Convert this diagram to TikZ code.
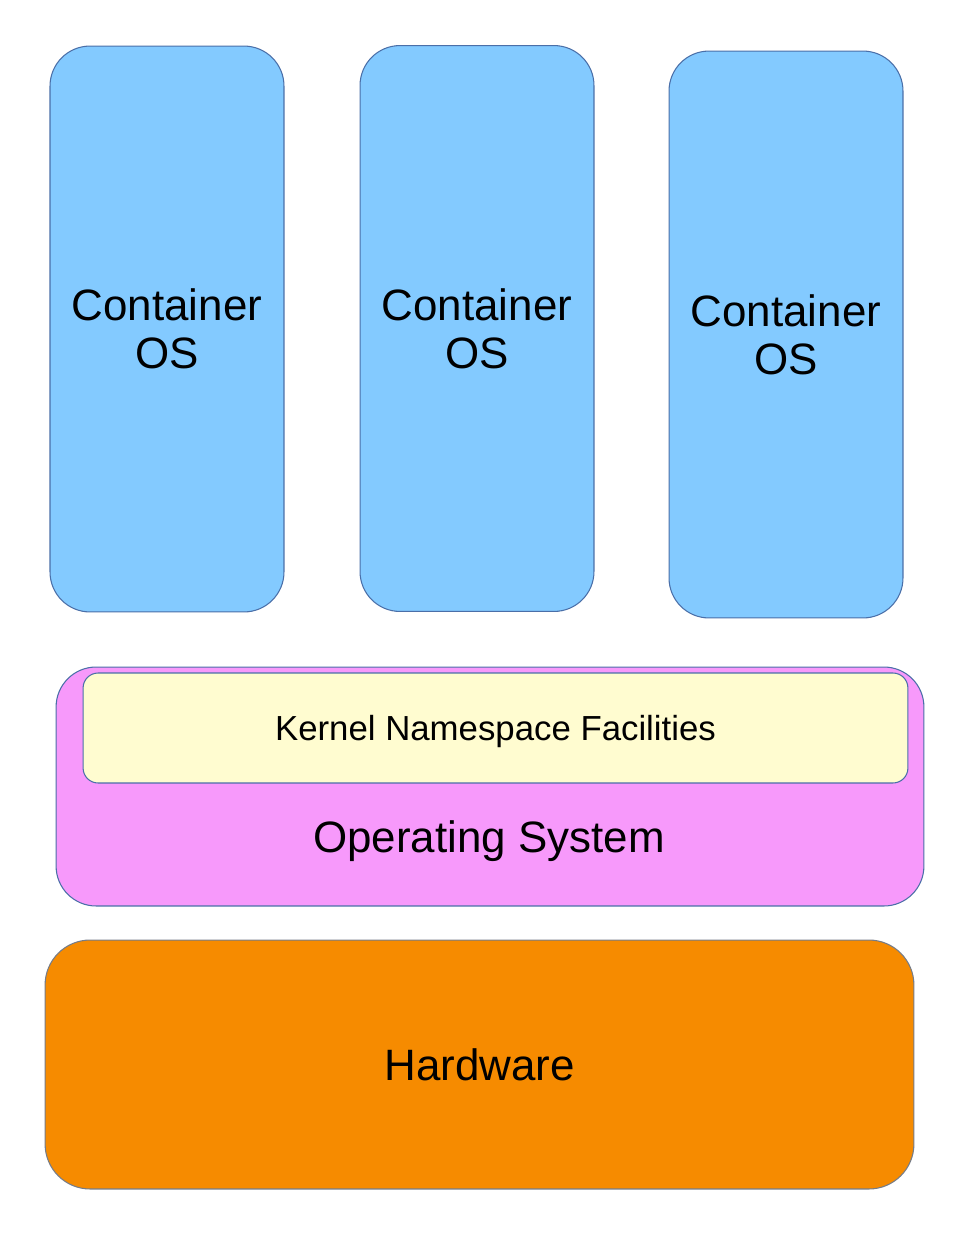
\documentclass[tikz,border=0pt]{standalone}
\usepackage{fontspec}
\setmainfont{Liberation Sans}
\usepackage{tikz}
\usetikzlibrary{calc}
\definecolor{contblue}{HTML}{83CAFF}
\definecolor{ospink}{HTML}{F799FB}
\definecolor{kernyellow}{HTML}{FFFCD0}
\definecolor{hworange}{HTML}{F68B00}
\definecolor{edgeblue}{HTML}{4A6FA8}
\tikzset{
    box/.style={draw=edgeblue,line width=0.6pt,inner sep=0pt,align=center},
    container/.style={box,fill=contblue,rounded corners=0.8cm,minimum width=4.68cm,minimum height=11.32cm,font=\fontsize{25}{27.5}\selectfont},
    }
\begin{document}
\begin{tikzpicture}[x=0.02cm,y=-0.02cm]
                \useasboundingbox[fill=white] (0,0) rectangle (969,1254);
                    \node[container] (contA) at (167,329) {Container\\OS};
                    \node[container] (contB) at (477,328.5) {Container\\OS};
                    \node[container,minimum height=11.34cm] (contC) at (786,334.5) {Container\\OS};
                \node[box,fill=ospink,rounded corners=0.8cm,minimum width=17.36cm,minimum height=4.78cm] (os) at (490,786.5) {};
                \node[box,fill=kernyellow,rounded corners=0.3cm,minimum width=16.5cm,minimum height=2.2cm,text depth=0pt,font=\fontsize{19.8}{22}\selectfont] (kernel) at (495.5,728) {Kernel Namespace Facilities};
                \node[text depth=0pt,font=\fontsize{25}{27.5}\selectfont] (oslabel) at (489,837) {Operating\ System};
                \node[box,fill=hworange,draw=gray!80!edgeblue,rounded corners=0.9cm,minimum width=17.38cm,minimum height=4.98cm,font=\fontsize{25}{27.5}\selectfont] (hw) at (479.5,1064.5) {Hardware};
                \end{tikzpicture}
\end{document}
